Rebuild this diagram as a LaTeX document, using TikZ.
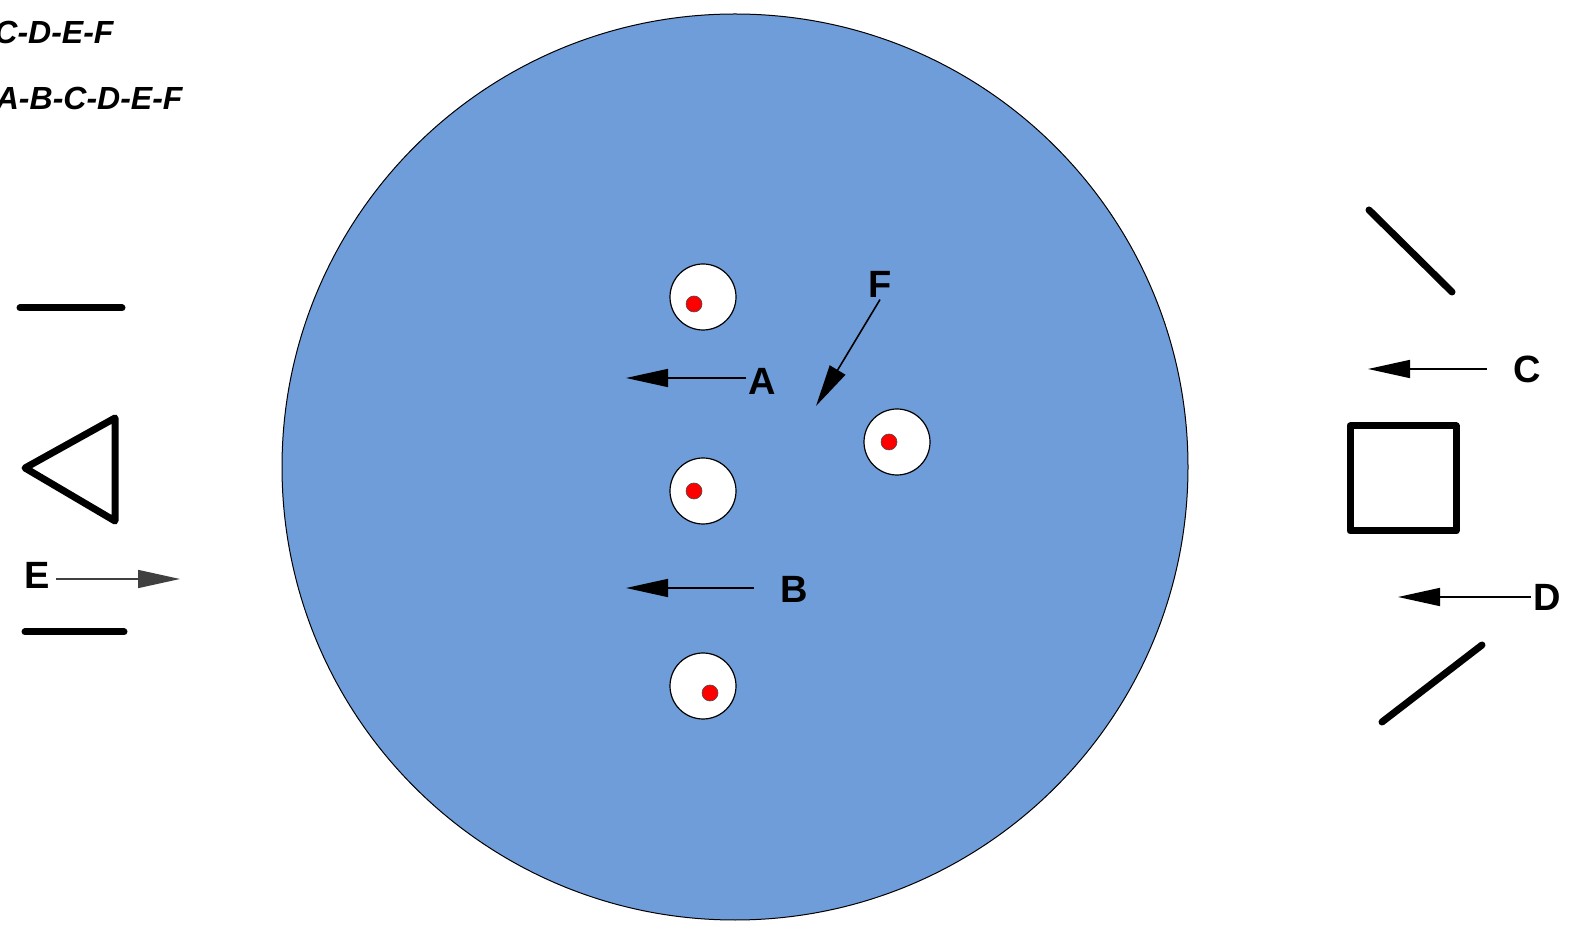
\documentclass[tikz,border=0pt]{standalone}
\usepackage{fontspec}
\setmainfont{Liberation Sans}
\usepackage{xcolor}
\usetikzlibrary{arrows.meta}
\definecolor{poolblue}{RGB}{111,157,217}

\begin{document}
\begin{tikzpicture}[x=0.5pt,y=-0.5pt,line width=0.5pt,
  every node/.style={font=\fontsize{19pt}{21pt}\selectfont\bfseries,inner sep=1pt},
  bar/.style={line width=3.5pt,line cap=round,line join=round},
  pointer/.style={line width=0.8pt,-{Triangle[length=21pt,width=9pt]}},
  hole/.style={draw,fill=white,line width=0.6pt},
  dot/.style={fill=red,draw=black!70,line width=0.3pt}]
  \useasboundingbox (0,0) rectangle (1574,929);
  % pool
  \fill[poolblue,draw=black] (735,467) circle (453);
  \foreach \x/\y/\dx/\dy in {703/297/694/304,897/442/889/442,703/491/694/491,703/686/710/693}{
    \draw[hole] (\x,\y) circle (33);
    \draw[dot] (\dx,\dy) circle (8);
  }
  % legend
  \node[anchor=east,font=\fontsize{16pt}{18pt}\selectfont\bfseries\itshape] (l1) at (116,32) {C-D-E-F};
  \node[anchor=east,font=\fontsize{16pt}{18pt}\selectfont\bfseries\itshape] (l2) at (185,98) {A-B-C-D-E-F};
  % labels
  \node (A) at (762,381) {A};
  \node (B) at (794,589) {B};
  \node (F) at (880,284) {F};
  \node (C) at (1527,369) {C};
  \node (D) at (1547,597) {D};
  \node (E) at (37,575) {E};
  \coordinate (a) at (626,378);
  \coordinate (b) at (626,588);
  \coordinate (f) at (816,406);
  \coordinate (c) at (1368,369);
  \coordinate (d) at (1398,597);
  \coordinate (e) at (180,579);
  \draw[pointer] (a -| A.west) -- (a);
  \draw[pointer] ([xshift=-12]b -| B.west) -- (b);
  \draw[pointer] (F.south) -- (f);
  \draw[pointer] ([xshift=-12]C.west) -- (c);
  \draw[pointer] (D.west) -- (d);
  \draw[pointer,draw=black!75] ([xshift=2]e -| E.east) -- (e);
  % left side
  \draw[bar] (20,308) -- (122,308);
  \draw[bar] (25,468) -- (115,418) -- (115,521) -- cycle;
  \draw[bar] (25,632) -- (124,632);
  % right side
  \draw[bar] (1369,210) -- (1452,292);
  \draw[bar] (1350,426) rectangle (1456,531);
  \draw[bar] (1382,722) -- (1482,645);
\end{tikzpicture}
\end{document}
